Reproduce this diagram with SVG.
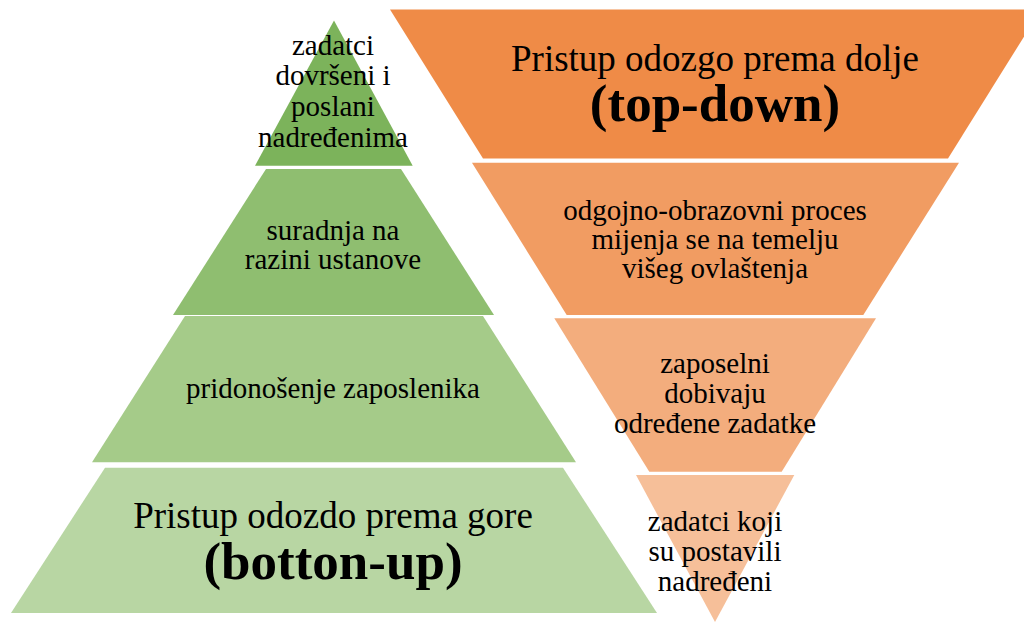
<svg xmlns="http://www.w3.org/2000/svg" width="1024" height="622" viewBox="0 0 1024 622">
<style>
text{font-family:"Liberation Serif","Times New Roman",serif;fill:#000;text-anchor:middle}
.s{font-size:29px}
.b{font-size:37px}
.bb{font-size:53px;font-weight:bold}
</style>
<rect width="1024" height="622" fill="#fff"/>
<g id="bottom-up-1"><polygon points="334,20.5 412.7,165.7 255,165.7" fill="#7CB35B"/>
<text class="s" x="333" y="55">zadatci</text><text class="s" x="333" y="85">dovršeni i</text><text class="s" x="333" y="116">poslani</text><text class="s" x="333" y="147">nadređenima</text></g>
<g id="bottom-up-2"><polygon points="266,169 401,169 494,315 173,315" fill="#8FBE70"/>
<text class="s" x="333" y="240">suradnja na</text><text class="s" x="333" y="269">razini ustanove</text></g>
<g id="bottom-up-3"><polygon points="185,316 483,316 576,462.3 92,462.3" fill="#A5CB89"/>
<text class="s" x="333" y="398">pridonošenje zaposlenika</text></g>
<g id="bottom-up-4"><polygon points="105,467.7 563,467.7 657,613 11,613" fill="#B8D6A3"/>
<text class="b" x="333" y="528">Pristup odozdo prema gore</text><text class="bb" x="333" y="579">(botton-up)</text></g>
<g id="top-down-1"><polygon points="390,9.5 1041,9.5 948,158.5 483,158.5" fill="#EF8B47"/>
<text class="b" x="715" y="71">Pristup odozgo prema dolje</text><text class="bb" x="715" y="121">(top-down)</text></g>
<g id="top-down-2"><polygon points="472,162.7 959,162.7 863.3,315 566.7,315" fill="#F19C62"/>
<text class="s" x="715" y="220">odgojno-obrazovni proces</text><text class="s" x="715" y="249">mijenja se na temelju</text><text class="s" x="715" y="278">višeg ovlaštenja</text></g>
<g id="top-down-3"><polygon points="554.3,318.3 876,318.3 781.7,471.7 649.3,471.7" fill="#F3AD7D"/>
<text class="s" x="715" y="373">zaposelni</text><text class="s" x="715" y="403">dobivaju</text><text class="s" x="715" y="433">određene zadatke</text></g>
<g id="top-down-4"><polygon points="636,475 794.3,475 715,622" fill="#F6BF99"/>
<text class="s" x="715" y="531">zadatci koji</text><text class="s" x="715" y="561">su postavili</text><text class="s" x="715" y="591">nadređeni</text></g>
<g id="connectors"/>
</svg>
